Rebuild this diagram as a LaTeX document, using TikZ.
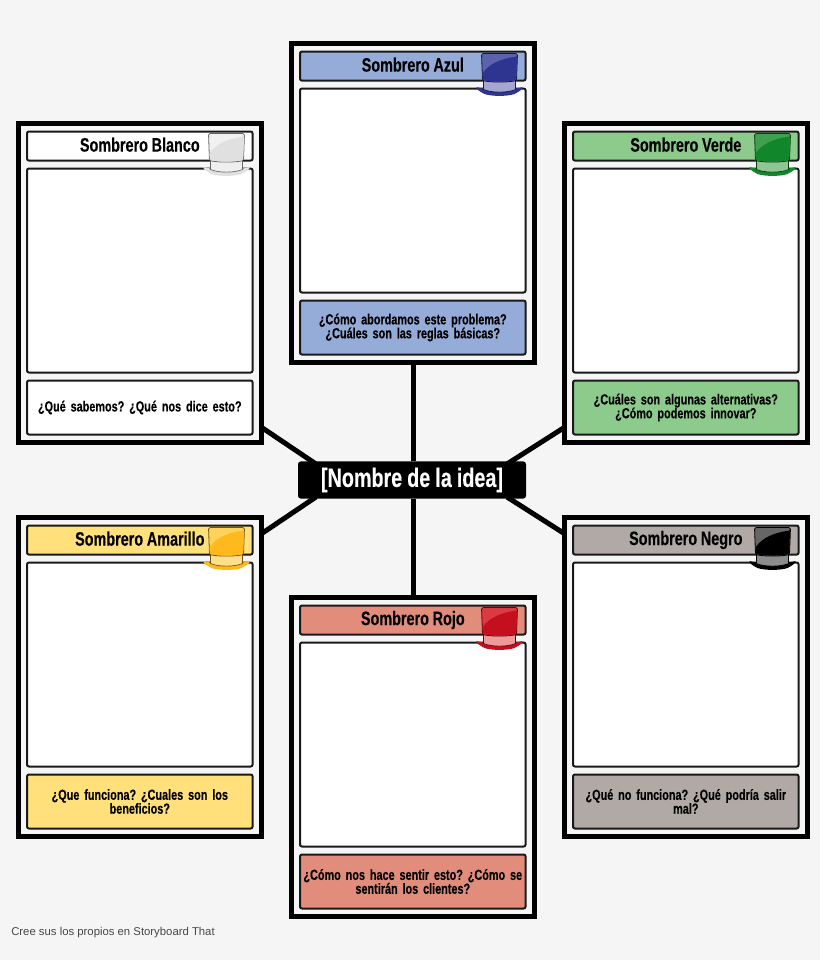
\documentclass[tikz,border=0pt]{standalone}
\usepackage{fontspec}
\setmainfont{Liberation Sans}
\newfontfamily\condfont[FakeStretch=0.74,FakeBold=0.25]{Liberation Sans Bold}
\newfontfamily\footfont{Liberation Sans}
\usetikzlibrary{backgrounds}
\definecolor{pagebg}{HTML}{F5F5F5}
\definecolor{cazul}{HTML}{95ABD8}
\definecolor{cverde}{HTML}{8CCB8C}
\definecolor{camar}{HTML}{FFE07A}
\definecolor{cnegro}{HTML}{B0A9A6}
\definecolor{crojo}{HTML}{E28D7B}
\definecolor{hbl}{HTML}{F1F1F1}\definecolor{hbd}{HTML}{E0E0E0}\definecolor{hbb}{HTML}{EFEFEF}
\definecolor{hal}{HTML}{5C62AC}\definecolor{had}{HTML}{2E3590}\definecolor{hab}{HTML}{A5A7D2}
\definecolor{hvl}{HTML}{3FA04F}\definecolor{hvd}{HTML}{12862A}\definecolor{hvb}{HTML}{8FC696}
\definecolor{hyl}{HTML}{FFD258}\definecolor{hyd}{HTML}{FFB81E}\definecolor{hyb}{HTML}{FFE08A}
\definecolor{hnl}{HTML}{666666}\definecolor{hnd}{HTML}{000000}\definecolor{hnb}{HTML}{8C8C8C}
\definecolor{hrl}{HTML}{DB3A44}\definecolor{hrd}{HTML}{C40F1F}\definecolor{hrb}{HTML}{EE9A9A}
\newcommand{\condsize}[2]{\condfont\fontsize{#1}{#2}\selectfont\frenchspacing\spaceskip=.19em\relax}
\tikzset{
  x=0.75pt,y=-0.75pt,
  cardframe/.style={draw=black,line width=3.75pt,fill=pagebg,minimum width=182.25pt,minimum height=239.25pt,inner sep=0pt,anchor=north west},
  panel/.style={draw=black!90,line width=1.5pt,rounded corners=1.5pt,minimum width=169.2pt,inner sep=0pt,anchor=north west,align=center},
  titlebox/.style={panel,minimum height=21.8pt,font=\condsize{14.6}{16}},
  bodybox/.style={panel,fill=white,minimum height=153pt},
  askbox/.style={panel,minimum height=40.5pt,text width=168.2pt,font=\condsize{11}{10.4}},
  link/.style={draw=black,line width=3.75pt},
  ideabox/.style={fill=black,text=white,rounded corners=2pt,minimum width=171pt,minimum height=27.8pt,inner sep=0pt,font=\condsize{20}{22}},
}
% #1 name, #2 x, #3 y, #4 fill, #5 title, #6 question, #7 hat colour prefix
\newcommand{\hatcard}[7]{
  \node[cardframe] (#1) at (#2,#3) {};
  \node[titlebox,fill=#4] (#1t) at (#2+10,#3+9.5) {\raisebox{2.2pt}{#5}};
  \node[bodybox] (#1b) at (#2+10,#3+46.5) {};
  \node[askbox,fill=#4] (#1q) at (#2+10,#3+258.5) {#6};
  \begin{scope}[shift={(#2+210.5,#3+12.5)},line join=round]
    \fill[#7d] (-23,33.5) .. controls (-24,35) and (-20,38) .. (-15,40.5) .. controls (-8,43) and (8,43) .. (15,40.5) .. controls (20,38) and (24,35) .. (23,33.5) .. controls (16,36.5) and (-16,36.5) .. (-23,33.5) -- cycle;
    \fill[#7b,draw=black!55!#7d,line width=.5pt] (-16,26) -- (16,26) -- (16,36) .. controls (8,39.5) and (-8,39.5) .. (-16,36) -- cycle;
    \fill[#7l,draw=black!55!#7d,line width=.6pt,rounded corners=1.2pt] (-18,0) -- (18,0) -- (17,27) .. controls (8,29) and (-8,29) .. (-17,27) -- cycle;
    \fill[#7d,rounded corners=.8pt] (17.6,3) -- (16.6,26.5) .. controls (8,28.5) and (-8,28.5) .. (-16.6,26.5) -- (-17,20) .. controls (-10,10) and (2,5) .. (17.6,3) -- cycle;
  \end{scope}
}
\begin{document}
\begin{tikzpicture}
\useasboundingbox (0,0) rectangle (820,960);
\hatcard{blanco}{16}{121}{white}{Sombrero Blanco}{¿Qué sabemos? ¿Qué nos dice esto?}{hb}
\hatcard{azul}{289}{41}{cazul}{Sombrero Azul}{¿Cómo abordamos este problema?\\¿Cuáles son las reglas básicas?}{ha}
\hatcard{verde}{562}{121}{cverde}{Sombrero Verde}{¿Cuáles son algunas alternativas?\\¿Cómo podemos innovar?}{hv}
\hatcard{amarillo}{16}{515}{camar}{Sombrero Amarillo}{¿Que funciona? ¿Cuales son los\\beneficios?}{hy}
\hatcard{negro}{562}{515}{cnegro}{Sombrero Negro}{¿Qué no funciona? ¿Qué podría salir\\mal?}{hn}
\hatcard{rojo}{289}{595}{crojo}{Sombrero Rojo}{¿Cómo nos hace sentir esto? ¿Cómo se\\sentirán los clientes?}{hr}
\node[ideabox] (idea) at (412,480) {\raisebox{1.5pt}{[Nombre de la idea]}};
\coordinate (ibl) at (316,464);
\coordinate (ibr) at (507,464);
\coordinate (iar) at (316,497);
\coordinate (inr) at (507,497);
\coordinate (cbl) at (261,427);
\coordinate (cvd) at (565,427);
\coordinate (cam) at (261,534);
\coordinate (cng) at (565,534);
\node[anchor=west,inner sep=0pt,text=black!72,font=\footfont\fontsize{8.5}{10}\selectfont] (foot) at (11,932.5) {Cree sus los propios en Storyboard That};
\begin{scope}[on background layer]
  \fill[pagebg] (0,0) rectangle (820,960);
  \draw[link] (idea.north -| azul.south) -- (azul.south);
  \draw[link] (idea.south -| rojo.north) -- (rojo.north);
  \draw[link] (ibl) -- (cbl);
  \draw[link] (ibr) -- (cvd);
  \draw[link] (iar) -- (cam);
  \draw[link] (inr) -- (cng);
\end{scope}
\end{tikzpicture}
\end{document}
